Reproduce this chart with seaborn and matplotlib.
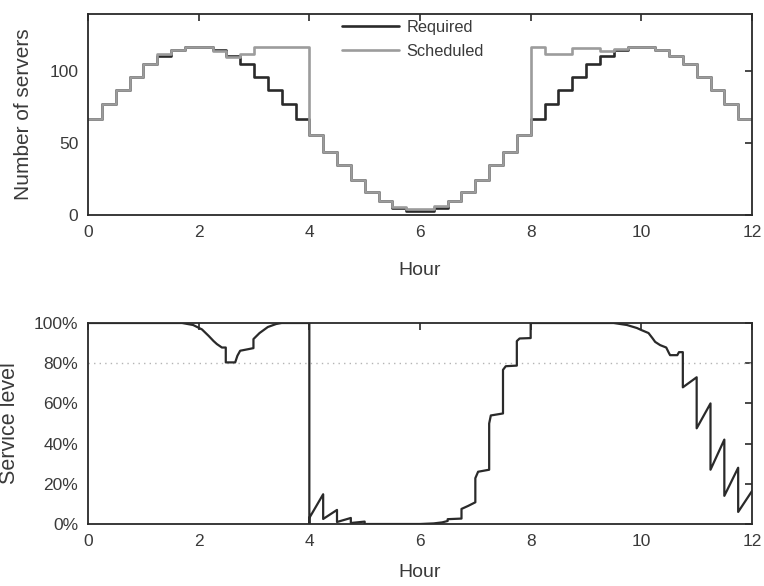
import numpy as np
import pandas as pd
import matplotlib
matplotlib.use("Agg")
import matplotlib.pyplot as plt
import seaborn as sns
from matplotlib.ticker import PercentFormatter

sns.set_style("white")
plt.rcParams["font.family"] = ["Liberation Sans", "DejaVu Sans"]

# ---- data: top panel (15-minute staffing intervals) ----
interval_start = [i * 0.25 for i in range(48)]
required = [67, 77.5, 87, 96, 105, 111, 115, 117, 117, 115, 111, 105, 96, 87, 77.5, 67,
            55.5, 44, 34.5, 24.5, 16, 9.5, 5, 2.5, 2.5, 5, 9.5, 16, 24.5, 34.5, 44, 55.5,
            67, 77.5, 87, 96, 105, 111, 115, 117, 117, 115, 111, 105, 96, 87, 77.5, 67]
scheduled = [67, 77.5, 87, 96, 105, 112, 115, 117, 117, 114, 110, 112, 117, 117, 117, 117,
             55.5, 44, 34.5, 24.5, 16, 9.5, 5.5, 4.5, 4.5, 6.5, 9.5, 16, 24.5, 34.5, 44, 55.5,
             117, 112, 112, 116, 116, 114, 115.5, 117, 117, 115, 111, 105, 96, 87, 77.5, 67]

# ---- data: bottom panel (service level) ----
sl_hour = [0, 1.7, 1.9, 2.06, 2.18, 2.27, 2.33, 2.42, 2.49, 2.49, 2.66, 2.7, 2.75, 2.9, 2.99, 2.99,
           3.1, 3.25, 3.4, 3.5, 4.0, 4.0, 4.0, 4.25, 4.25, 4.5, 4.5, 4.75, 4.75, 5.0, 5.0,
           6.0, 6.25, 6.4, 6.5, 6.5, 6.75, 6.75, 6.87, 7.0, 7.0, 7.05, 7.25, 7.25, 7.28, 7.5,
           7.5, 7.55, 7.75, 7.75, 7.8, 8.0, 8.0, 9.5, 9.74, 9.92, 10.0, 10.13, 10.2, 10.25,
           10.34, 10.45, 10.5, 10.52, 10.65, 10.68, 10.75, 10.75, 11.0, 11.0, 11.25, 11.25,
           11.5, 11.5, 11.75, 11.75, 12.0]
sl_value = [1.0, 1.0, 0.99, 0.968, 0.936, 0.91, 0.895, 0.878, 0.878, 0.804, 0.804, 0.837, 0.862, 0.87, 0.875, 0.92,
            0.95, 0.98, 0.995, 1.0, 1.0, 0.0, 0.03, 0.148, 0.025, 0.07, 0.01, 0.03, 0.005, 0.012, 0.0,
            0.0, 0.003, 0.008, 0.015, 0.024, 0.027, 0.075, 0.09, 0.108, 0.228, 0.26, 0.27, 0.50, 0.54, 0.55,
            0.767, 0.785, 0.788, 0.91, 0.923, 0.925, 1.0, 1.0, 0.99, 0.975, 0.965, 0.95, 0.925, 0.906,
            0.89, 0.878, 0.85, 0.84, 0.84, 0.855, 0.855, 0.68, 0.73, 0.476, 0.60, 0.27,
            0.42, 0.14, 0.28, 0.06, 0.164]
target = 0.8

TXT = "#3a3a3a"
DARK = "#2a2a2a"
LIGHT = "#9c9c9c"

edges = interval_start + [12.0]
top_df = pd.concat([
    pd.DataFrame({"Hour": edges, "Servers": required + [required[-1]], "series": "Required"}),
    pd.DataFrame({"Hour": edges, "Servers": scheduled + [scheduled[-1]], "series": "Scheduled"}),
])
sl_df = pd.DataFrame({"Hour": sl_hour, "SL": sl_value})

fig = plt.figure(figsize=(7.64, 5.86), dpi=100)
ax1 = fig.add_axes([88 / 764, 1 - 215 / 586, 664 / 764, 201 / 586])
ax2 = fig.add_axes([88 / 764, 1 - 524 / 586, 664 / 764, 201 / 586])

sns.lineplot(data=top_df, x="Hour", y="Servers", hue="series", hue_order=["Required", "Scheduled"],
             palette={"Required": DARK, "Scheduled": LIGHT}, drawstyle="steps-post",
             estimator=None, sort=False, linewidth=1.9, ax=ax1)
ax1.set_xlim(0, 12)
ax1.set_ylim(0, 140)
ax1.set_yticks([0, 50, 100])
ax1.set_xticks(range(0, 13, 2))
ax1.set_ylabel("Number of servers", fontsize=15, color=TXT, labelpad=12)
ax1.set_xlabel("Hour", fontsize=14, color=TXT, labelpad=16)
leg = ax1.legend(loc="upper left", bbox_to_anchor=(0.36, 1.045), frameon=False, fontsize=11.8,
                 handlelength=3.5, handletextpad=0.45, labelspacing=0.55)
for t in leg.get_texts():
    t.set_color(TXT)

ax2.axhline(target, color="#b4b4b4", linestyle=(0, (1, 3)), linewidth=1.0, zorder=1)
sns.lineplot(data=sl_df, x="Hour", y="SL", estimator=None, sort=False,
             color=DARK, linewidth=1.6, ax=ax2)
ax2.set_xlim(0, 12)
ax2.set_ylim(0, 1)
ax2.set_yticks([0, 0.2, 0.4, 0.6, 0.8, 1.0])
ax2.yaxis.set_major_formatter(PercentFormatter(1.0, decimals=0))
ax2.set_xticks(range(0, 13, 2))
ax2.set_ylabel("Service level", fontsize=15.5, color=TXT, labelpad=10)
ax2.set_xlabel("Hour", fontsize=14, color=TXT, labelpad=11)

for ax in (ax1, ax2):
    for s in ax.spines.values():
        s.set_visible(True)
        s.set_color(DARK)
        s.set_linewidth(1.3)
    ax.tick_params(direction="in", length=5, width=1.2, color=DARK, top=True, right=True,
                   labelsize=12.5, labelcolor=TXT, pad=7)

fig.savefig("out.png", dpi=100)
